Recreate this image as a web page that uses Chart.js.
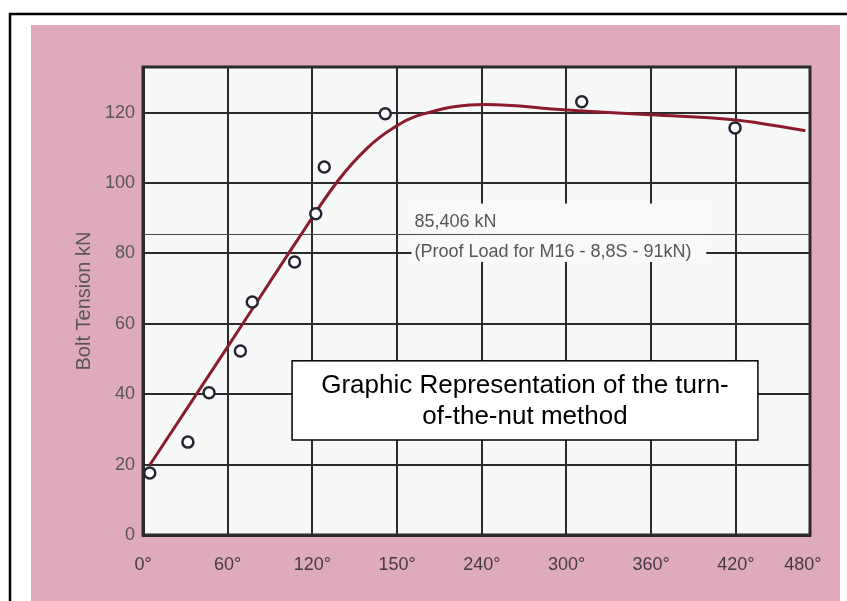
<!DOCTYPE html>
<html>
<head>
<meta charset="utf-8">
<script src="https://cdn.jsdelivr.net/npm/chart.js@4.4.1/dist/chart.umd.min.js"></script>
<style>
  html, body { margin: 0; padding: 0; background: #ffffff; }
  #c { display: block; }
</style>
</head>
<body>
<canvas id="c" width="847" height="601"></canvas>
<script>
// ---- data ----
const xTickLabels = ['0°', '60°', '120°', '150°', '240°', '300°', '360°', '420°', '480°'];
const xTickPositions = [0, 1, 2, 3, 4, 5, 6, 7, 7.79];
const yTickValues = [0, 20, 40, 60, 80, 100, 120];
const measuredX = [0.08, 0.53, 0.78, 1.15, 1.29, 1.79, 2.04, 2.14, 2.86, 5.18, 6.99];
const measuredY = [17.6, 26.4, 40.4, 52.3, 66.2, 77.6, 91.3, 104.6, 119.7, 123.1, 115.7];
const curveX = [0.08, 1.03, 1.85, 2.3, 2.65, 2.95, 3.3, 3.94, 5.0, 5.99, 6.97, 7.82];
const curveY = [19.9, 54.6, 84.8, 100.6, 110.0, 115.6, 119.6, 122.3, 120.8, 119.4, 118.0, 114.9];
const proofLoad = 85.406;
const proofLabel1 = '85,406 kN';
const proofLabel2 = '(Proof Load for M16 - 8,8S - 91kN)';
const yTitle = 'Bolt Tension kN';
const noteLines = ['Graphic Representation of the turn-', 'of-the-nut method'];
const xMin = 0, xMax = 7.875, yMin = 0, yMax = 133;

const FONT = '"Liberation Sans", Arial, Helvetica, sans-serif';
const GRID = '#2b2b2b';

const bgPlugin = {
  id: 'bg',
  beforeDraw(chart) {
    const ctx = chart.ctx, a = chart.chartArea;
    ctx.save();
    ctx.fillStyle = '#ffffff';
    ctx.fillRect(0, 0, chart.width, chart.height);
    ctx.fillStyle = '#dfaabb';
    ctx.fillRect(31, 25, 840 - 31, chart.height - 25);
    ctx.strokeStyle = '#000000';
    ctx.lineWidth = 2.5;
    ctx.strokeRect(10, 14, chart.width + 20, chart.height + 20);
    ctx.fillStyle = '#f7f8f8';
    ctx.fillRect(a.left, a.top, a.right - a.left, a.bottom - a.top);
    ctx.restore();
  },
  beforeDatasetsDraw(chart) {
    const ctx = chart.ctx, a = chart.chartArea;
    const xs = chart.scales.x, ys = chart.scales.y;
    ctx.save();
    ctx.strokeStyle = GRID;
    ctx.lineWidth = 3;
    ctx.strokeRect(a.left, a.top, a.right - a.left, a.bottom - a.top);
    const bx1 = xs.getPixelForValue(3.17), bx2 = xs.getPixelForValue(6.65);
    const by1 = ys.getPixelForValue(94.2), by2 = ys.getPixelForValue(77.6);
    ctx.fillStyle = '#f8f9f9';
    ctx.fillRect(bx1, by1, bx2 - bx1, by2 - by1);
    const py = ys.getPixelForValue(proofLoad);
    ctx.fillStyle = '#5a5658';
    ctx.font = '18px ' + FONT;
    ctx.textAlign = 'left';
    ctx.textBaseline = 'middle';
    ctx.fillText(proofLabel1, bx1 + 3, py - 12);
    ctx.fillText(proofLabel2, bx1 + 3, py + 18);
    ctx.restore();
  },
  afterDatasetsDraw(chart) {
    const ctx = chart.ctx;
    const xs = chart.scales.x, ys = chart.scales.y;
    ctx.save();
    const x1 = xs.getPixelForValue(1.76), x2 = xs.getPixelForValue(7.26);
    const y1 = ys.getPixelForValue(49.5), y2 = ys.getPixelForValue(27.0);
    ctx.fillStyle = '#ffffff';
    ctx.fillRect(x1, y1, x2 - x1, y2 - y1);
    ctx.strokeStyle = '#000000';
    ctx.lineWidth = 1.5;
    ctx.strokeRect(x1, y1, x2 - x1, y2 - y1);
    ctx.fillStyle = '#000000';
    ctx.font = '26px ' + FONT;
    ctx.textAlign = 'center';
    ctx.textBaseline = 'middle';
    const cx = (x1 + x2) / 2;
    ctx.fillText(noteLines[0], cx, y1 + 25);
    ctx.fillText(noteLines[1], cx, y1 + 56);
    ctx.restore();
  }
};

new Chart(document.getElementById('c'), {
  type: 'scatter',
  data: {
    datasets: [
      {
        type: 'line',
        data: [{x: xMin, y: proofLoad}, {x: xMax, y: proofLoad}],
        borderColor: '#4a4a4a',
        borderWidth: 1,
        pointRadius: 0,
        order: 3
      },
      {
        type: 'line',
        data: curveX.map((x, i) => ({x, y: curveY[i]})),
        borderColor: '#8c1b2d',
        borderWidth: 3,
        pointRadius: 0,
        tension: 0.4,
        order: 2
      },
      {
        type: 'scatter',
        data: measuredX.map((x, i) => ({x, y: measuredY[i]})),
        pointStyle: 'circle',
        pointRadius: 5.5,
        pointBorderWidth: 2.5,
        pointBorderColor: '#252634',
        pointBackgroundColor: '#ffffff',
        showLine: false,
        order: 1
      }
    ]
  },
  options: {
    responsive: false,
    devicePixelRatio: 1,
    animation: false,
    events: [],
    layout: { padding: { top: 67, right: 37, left: 0, bottom: 0 } },
    plugins: { legend: { display: false }, tooltip: { enabled: false } },
    scales: {
      x: {
        type: 'linear',
        min: xMin,
        max: xMax,
        afterBuildTicks: (s) => { s.ticks = xTickPositions.map(v => ({value: v})); },
        afterFit: (s) => { s.height = 66; },
        ticks: {
          autoSkip: false,
          maxRotation: 0,
          padding: 19,
          color: '#463a44',
          font: { family: FONT, size: 18 },
          callback: (v, i) => xTickLabels[i]
        },
        grid: {
          color: (c) => c.index === xTickPositions.length - 1 ? 'rgba(0,0,0,0)' : GRID,
          lineWidth: 2,
          drawTicks: false
        },
        border: { display: true, color: GRID, width: 3 }
      },
      y: {
        type: 'linear',
        min: yMin,
        max: yMax,
        afterBuildTicks: (s) => { s.ticks = yTickValues.map(v => ({value: v})); },
        afterFit: (s) => { s.width = 143; },
        ticks: {
          padding: 8,
          color: '#59555a',
          font: { family: FONT, size: 18 }
        },
        grid: { color: GRID, lineWidth: 2, drawTicks: false },
        border: { display: true, color: GRID, width: 3 },
        title: {
          display: true,
          text: yTitle,
          color: '#59555a',
          font: { family: FONT, size: 20 },
          padding: { top: 72, bottom: 0 }
        }
      }
    }
  },
  plugins: [bgPlugin]
});
</script>
</body>
</html>
